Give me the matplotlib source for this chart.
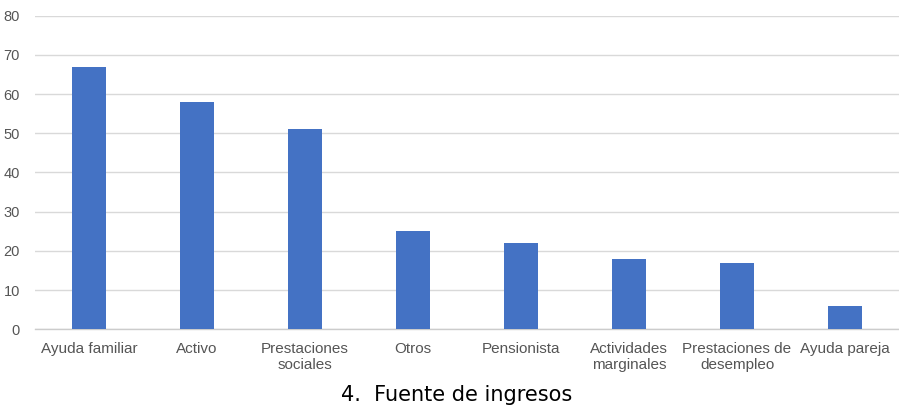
import matplotlib
matplotlib.use("Agg")
import matplotlib.pyplot as plt

categorias = ["Ayuda familiar", "Activo", "Prestaciones\nsociales", "Otros",
              "Pensionista", "Actividades\nmarginales", "Prestaciones de\ndesempleo",
              "Ayuda pareja"]
valores = [67, 58, 51, 25, 22, 18, 17, 6]
yticks = [0, 10, 20, 30, 40, 50, 60, 70, 80]
titulo = "4.  Fuente de ingresos"

fig = plt.figure(figsize=(8.99, 4.09), dpi=100)
ax = fig.add_axes([0.039, 0.195, 0.961, 0.7666])

x = range(len(categorias))
ax.bar(x, valores, width=0.315, color="#4472C4", zorder=3)

ax.set_xlim(-0.5, len(categorias) - 0.5)
ax.set_ylim(0, 80)
ax.set_yticks(yticks)
ax.set_xticks(list(x))
ax.set_xticklabels(categorias, fontsize=11, color="#555555",
                   family=["Liberation Sans", "DejaVu Sans"], linespacing=1.2)
for lab in ax.get_yticklabels():
    lab.set_family(["Liberation Sans", "DejaVu Sans"])
ax.tick_params(axis="y", length=0, pad=11, labelsize=10.5, labelcolor="#555555")
ax.tick_params(axis="x", length=0, pad=9)

ax.grid(axis="y", color="#d9d9d9", linewidth=1, zorder=0)
for s in ["top", "right", "left"]:
    ax.spines[s].set_visible(False)
ax.spines["bottom"].set_color("#cccccc")
ax.spines["bottom"].set_linewidth(1)

fig.text(0.508, 0.035, titulo, ha="center", va="center", fontsize=15,
         family="DejaVu Sans", color="black")

fig.savefig("out.png", dpi=100)
